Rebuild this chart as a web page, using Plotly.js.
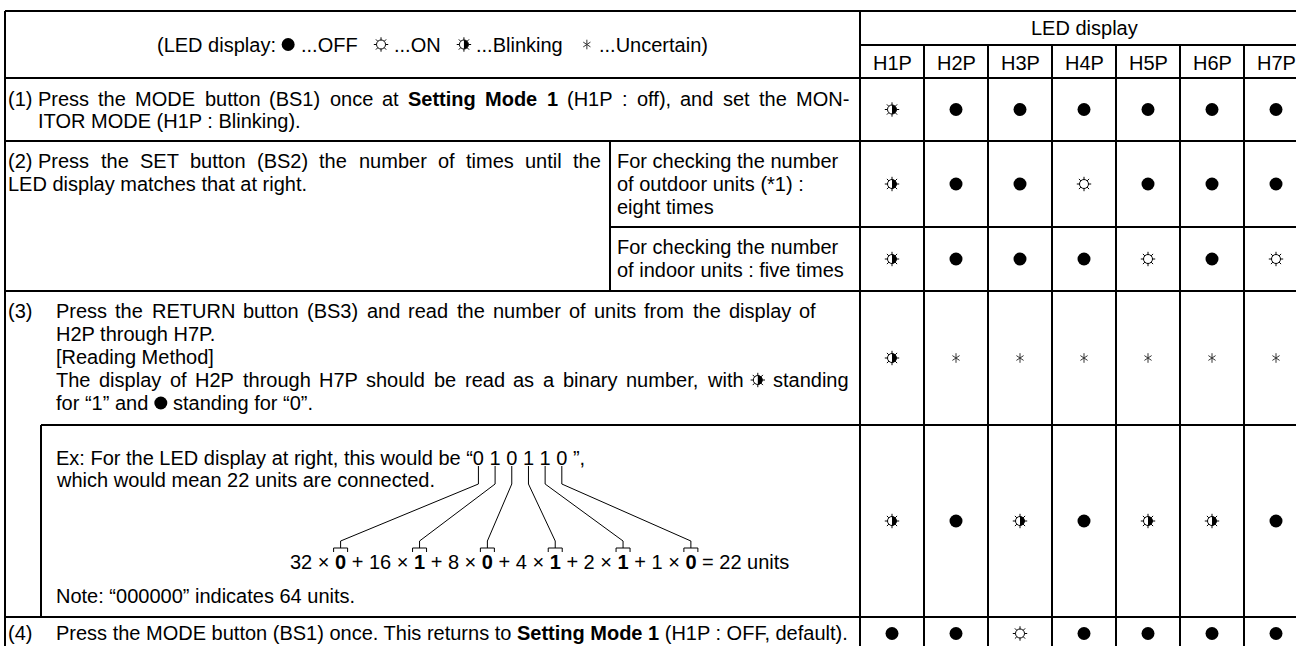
<!DOCTYPE html>
<html><head><meta charset="utf-8">
<script src="https://cdn.plot.ly/plotly-3.0.1.min.js"></script>
<style>html,body{margin:0;padding:0;background:#fff}#chart{width:1296px;height:646px}</style>
</head><body><div id="chart"></div>
<script>
// ---------- data ----------
const ledColumns = ['H1P','H2P','H3P','H4P','H5P','H6P','H7P'];
const ledStep1         = ['blink','off','off','off','off','off','off'];
const ledStep2Outdoor  = ['blink','off','off','on','off','off','off'];
const ledStep2Indoor   = ['blink','off','off','off','on','off','on'];
const ledStep3         = ['blink','unc','unc','unc','unc','unc','unc'];
const ledExample       = ['blink','off','blink','off','blink','blink','off'];
const ledStep4         = ['off','off','on','off','off','off','off'];
const exampleBits   = ['0','1','0','1','1','0'];
const bitWeights    = ['32','16','8','4','2','1'];
const exampleTotal  = '22';
const noteZeros     = '000000';
const noteUnits     = '64';
const legendItems   = [['off','...OFF'],['on','...ON'],['blink','...Blinking'],['unc','...Uncertain)']];

// ---------- layout helpers ----------
const W = 1296, H = 646, FS = 20;
const FONT = '"Liberation Sans", Arial, Helvetica, sans-serif';
const ctx = document.createElement('canvas').getContext('2d');
function tw(s, bold){ ctx.font = (bold ? 'bold ' : '') + FS + 'px "Liberation Sans", Arial, sans-serif'; return ctx.measureText(s).width; }

const annotations = [], shapes = [];
const pts = {off:{x:[],y:[]}, on:{x:[],y:[]}, blink:{x:[],y:[]}, unc:{x:[],y:[]}};
function txt(x, y, text, anchor){
  annotations.push({x, y, xref:'x', yref:'y', text, showarrow:false, xanchor:anchor||'left', yanchor:'middle',
    font:{family:FONT, size:FS, color:'#000'}, borderpad:0, borderwidth:0});
}
function icon(kind, x, y){ pts[kind].x.push(x); pts[kind].y.push(y); }
function seg(x0,y0,x1,y1,w){ shapes.push({type:'line', xref:'x', yref:'y', x0, y0, x1, y1, line:{color:'#000', width:w||2}}); }
const ICON_W = 14;
function tokW(t){
  if (typeof t !== 'string') return ICON_W;
  if (t.startsWith('<b>')) return tw(t.replace(/<\/?b>/g,''), true);
  return tw(t);
}
function placeTok(t, x, y){
  if (typeof t === 'string') txt(x, y, t);
  else icon(t.icon, x + ICON_W/2, y);
}
// justified line: tokens spread so that the last one ends at 'right'
function justify(x, y, right, tokens){
  const ws = tokens.map(tokW);
  const sum = ws.reduce((a,b)=>a+b,0);
  const gap = Math.max(tw(' '), (right - x - sum) / (tokens.length - 1));
  let cur = x;
  tokens.forEach((t,i) => { placeTok(t, cur, y); cur += ws[i] + gap; });
}
function inline(x, y, pieces){
  let cur = x; const sp = tw(' ');
  pieces.forEach(p => {
    if (typeof p === 'string') { txt(cur, y, p); cur += tw(p); }
    else { cur += sp + (p.pre||0); icon(p.icon, cur + ICON_W/2, y); cur += ICON_W + sp; }
  });
}
function words(s){ return s.split(' '); }

// ---------- table geometry ----------
const tL = 5, tT = 11, tR = 1308, tB = 650;
const ledL = 860, colW = 64, headMid = 45, headB = 78;
const r1B = 141, splitX = 610, r2aB = 227, r2B = 291, exL = 41, r3B = 425, exB = 617;

seg(tL,tT,tR,tT); seg(ledL,headMid,tR,headMid); seg(tL,headB,tR,headB);
seg(tL,r1B,tR,r1B); seg(splitX,r2aB,tR,r2aB); seg(tL,r2B,tR,r2B);
seg(exL,r3B,tR,r3B); seg(tL,exB,tR,exB); seg(tL,tB,tR,tB);
seg(tL,tT,tL,tB); seg(ledL,tT,ledL,tB);
for (let k = 1; k < ledColumns.length; k++) seg(ledL + colW*k, headMid, ledL + colW*k, tB);
seg(splitX, r1B, splitX, r2B); seg(exL, r3B, exL, exB);

// ---------- header ----------
txt(ledL + colW*ledColumns.length/2, (tT+headMid)/2, 'LED display', 'center');
ledColumns.forEach((c,i) => txt(ledL + colW*(i+0.5), (headMid+headB)/2 + 1, c, 'center'));
(function(){
  const sp = tw(' ');
  let total = tw('(LED display:');
  legendItems.forEach((it,i) => { total += sp + ICON_W + sp + tw(it[1]) + (i < legendItems.length-1 ? sp*2 : 0); });
  const x = (tL + ledL)/2 - total/2;
  const pieces = ['(LED display:'];
  legendItems.forEach((it,i) => { pieces.push({icon:it[0], pre: i>0 ? sp*2 : 0}); pieces.push(it[1]); });
  inline(x, (tT+headB)/2, pieces);
})();

// ---------- LED cells ----------
const ledRows = [
  [ledStep1, headB, r1B], [ledStep2Outdoor, r1B, r2aB], [ledStep2Indoor, r2aB, r2B],
  [ledStep3, r2B, r3B], [ledExample, r3B, exB], [ledStep4, exB, tB]
];
ledRows.forEach(([st, a, b]) => st.forEach((s,i) => icon(s, ledL + colW*(i+0.5), (a+b)/2)));

// ---------- row texts ----------
const ind1 = 38, ind3 = 56;
txt(8, 99, '(1)');
justify(ind1, 99, 849, words('Press the MODE button (BS1) once at <b>Setting</b> <b>Mode</b> <b>1</b> (H1P : off), and set the MON-'));
txt(ind1, 121, 'ITOR MODE (H1P : Blinking).');

txt(8, 161, '(2)');
justify(ind1, 161, 601, words('Press the SET button (BS2) the number of times until the'));
txt(8, 184, 'LED display matches that at right.');
txt(617, 161, 'For checking the number');
txt(617, 184, 'of outdoor units (*1) :');
txt(617, 207, 'eight times');
txt(617, 247, 'For checking the number');
txt(617, 270, 'of indoor units : five times');

txt(8, 311, '(3)');
justify(ind3, 311, 816, words('Press the RETURN button (BS3) and read the number of units from the display of'));
txt(ind3, 334, 'H2P through H7P.');
txt(ind3, 357, '[Reading Method]');
justify(ind3, 380, 849, words('The display of H2P through H7P should be read as a binary number, with').concat([{icon:'blink'}, 'standing']));
inline(ind3, 403, ['for \u201c1\u201d and', {icon:'off'}, 'standing for \u201c0\u201d.']);

// example block
const exX = 56, exY = 458;
const exPrefix = 'Ex: For the LED display at right, this would be \u201c';
const bitStr = exampleBits.join(' ');
txt(exX, exY, exPrefix + bitStr + ' \u201d,');
txt(exX, exY + 22, 'which would mean ' + exampleTotal + ' units are connected.');
txt(exX, 596, 'Note: \u201c' + noteZeros + '\u201d indicates ' + noteUnits + ' units.');

const eqX = 290, eqY = 562;
const eqText = bitWeights.map((w,i) => w + ' \u00d7 <b>' + exampleBits[i] + '</b>').join(' + ') + ' = ' + exampleTotal + ' units';
txt(eqX, eqY, eqText);
(function(){
  const pre = tw(exPrefix);
  let cur = eqX;
  const stubTop = exY + 8, stubBot = exY + 26, stemTop = 541, barY = 548, legY = 552, half = 7;
  exampleBits.forEach((b,i) => {
    const dx = exX + pre + tw(exampleBits.slice(0,i).map(v=>v+' ').join('')) + tw(b)/2;
    cur += tw(bitWeights[i] + ' \u00d7 ');
    const bw = tw(b, true);
    const bx = cur + bw/2;
    cur += bw + tw(' + ');
    seg(dx, stubTop, dx, stubBot, 1);
    seg(dx, stubBot, bx, stemTop, 1);
    seg(bx, stemTop, bx, barY, 1);
    seg(bx-half, barY, bx+half, barY, 1);
    seg(bx-half, barY, bx-half, legY, 1);
    seg(bx+half, barY, bx+half, legY, 1);
  });
})();

txt(8, 633, '(4)');
txt(ind3, 633, 'Press the MODE button (BS1) once. This returns to <b>Setting Mode 1</b> (H1P : OFF, default).');

// blink half fills
pts.blink.x.forEach((x,i) => {
  const y = pts.blink.y[i], r = 4.5, k = 0.5523*r;
  shapes.push({type:'path', xref:'x', yref:'y', fillcolor:'#000', line:{width:0},
    path:`M${x},${y-r} C${x+k},${y-r} ${x+r},${y-k} ${x+r},${y} C${x+r},${y+k} ${x+k},${y+r} ${x},${y+r} Z`});
});

const sunX = pts.on.x.concat(pts.blink.x), sunY = pts.on.y.concat(pts.blink.y);
const traces = [
  {type:'scatter', mode:'markers', x:pts.off.x, y:pts.off.y, hoverinfo:'skip',
   marker:{symbol:'circle', size:13, color:'#000', line:{width:0}}},
  {type:'scatter', mode:'markers', x:sunX, y:sunY, hoverinfo:'skip',
   marker:{symbol:'asterisk-open', size:12, color:'#000', line:{width:1, color:'#000'}}},
  {type:'scatter', mode:'markers', x:sunX, y:sunY, hoverinfo:'skip',
   marker:{symbol:'circle', size:9, color:'#fff', line:{width:1, color:'#000'}}},
  {type:'scatter', mode:'markers', x:pts.unc.x, y:pts.unc.y, hoverinfo:'skip',
   marker:{symbol:'y-up-open', size:6, color:'#333', line:{width:1, color:'#333'}}},
  {type:'scatter', mode:'markers', x:pts.unc.x, y:pts.unc.y, hoverinfo:'skip',
   marker:{symbol:'y-down-open', size:6, color:'#333', line:{width:1, color:'#333'}}}
];

Plotly.newPlot('chart', traces, {
  width:W, height:H, margin:{l:0,r:0,t:0,b:0}, showlegend:false,
  paper_bgcolor:'#fff', plot_bgcolor:'#fff',
  xaxis:{range:[0,W], visible:false, fixedrange:true},
  yaxis:{range:[H,0], visible:false, fixedrange:true},
  annotations, shapes
}, {displayModeBar:false, staticPlot:true});
</script></body></html>
